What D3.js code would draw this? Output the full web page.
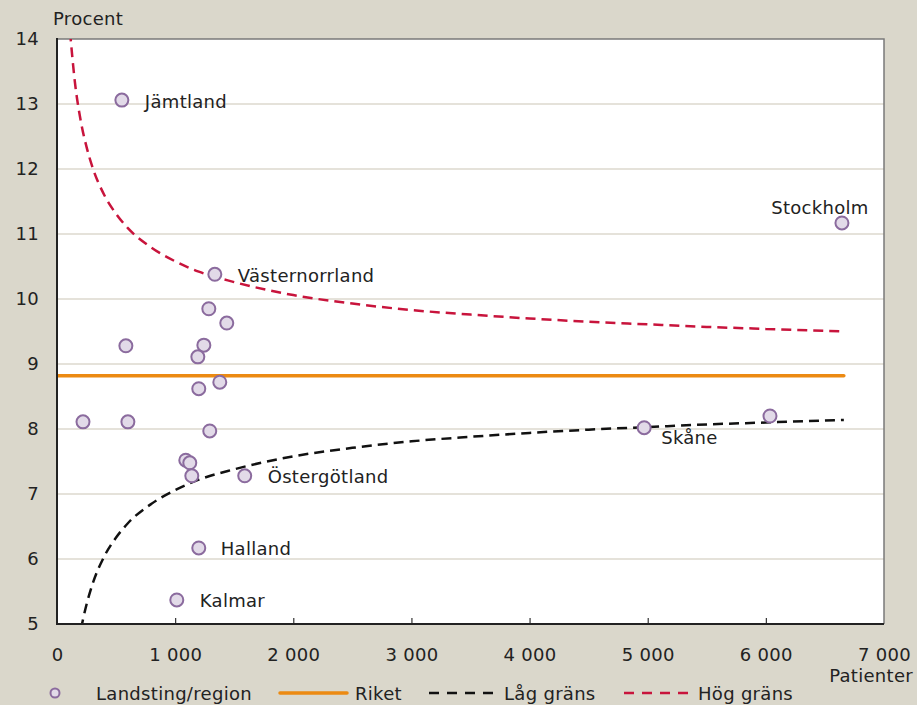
<!DOCTYPE html>
<html><head><meta charset="utf-8">
<script src="https://cdn.jsdelivr.net/npm/d3@7"></script>
<style>
body{margin:0;background:#dad7cb;}
svg{display:block;font-family:"DejaVu Sans",sans-serif;}
text{letter-spacing:0.3px;}
</style></head>
<body>
<svg id="c" width="917" height="705"></svg>
<script>
// Data
const regionNames = ["Jämtland","Stockholm","Västernorrland","","","","","","","","","","","Skåne","","","","","Östergötland","Halland","Kalmar"];
const patients = [549,6644,1336,1285,1437,583,1243,1192,1378,1200,220,600,1293,4970,6035,1090,1124,1141,1589,1200,1014];
const percent  = [13.06,11.17,10.38,9.85,9.63,9.28,9.29,9.11,8.72,8.62,8.11,8.11,7.97,8.02,8.20,7.52,7.48,7.28,7.28,6.17,5.37];
const riketValue = 8.82;
const riketRange = [0,6660];
const limitN     = [110,150,200,250,300,400,500,600,800,1000,1200,1500,2000,2500,3000,3500,4000,4500,5000,5500,6000,6660];
const highLimit  = [14.12,13.36,12.75,12.34,12.03,11.60,11.31,11.09,10.79,10.58,10.42,10.26,10.06,9.93,9.83,9.76,9.70,9.65,9.61,9.57,9.54,9.50];
const lowLimitN  = [203,220,250,300,400,500,600,800,1000,1200,1500,2000,2500,3000,3500,4000,4500,5000,5500,6000,6660];
const lowLimit   = [4.92,5.07,5.30,5.61,6.04,6.33,6.55,6.85,7.06,7.22,7.38,7.58,7.71,7.81,7.88,7.94,7.99,8.03,8.07,8.10,8.14];
const xTicks = [0,1000,2000,3000,4000,5000,6000,7000];
const yTicks = [5,6,7,8,9,10,11,12,13,14];
const legendLabels = ["Landsting/region","Riket","Låg gräns","Hög gräns"];

// label placement (dx, dy, anchor)
const labelPlace = {
  "Jämtland":[23,1,"start"],
  "Stockholm":[-22,-15,"middle"],
  "Västernorrland":[23,1,"start"],
  "Skåne":[17,10,"start"],
  "Östergötland":[23,1,"start"],
  "Halland":[22,1,"start"],
  "Kalmar":[23,1,"start"]
};

const FS = 18;
const svg = d3.select("#c");
const L=57, R=884, T=39, B=624;
const x = d3.scaleLinear().domain([0,7000]).range([L,R]);
const y = d3.scaleLinear().domain([5,14]).range([B,T]);

svg.append("rect").attr("x",L).attr("y",T).attr("width",R-L).attr("height",B-T).attr("fill","#fff");

// grid
svg.append("g").selectAll("line").data(yTicks.filter(d=>d>5&&d<14)).join("line")
  .attr("x1",L).attr("x2",R).attr("y1",d=>y(d)).attr("y2",d=>y(d))
  .attr("stroke","#dcd9ce").attr("stroke-width",1.5);

// top/right border
svg.append("path").attr("d",`M${L},${T}H${R}V${B}`).attr("fill","none").attr("stroke","#7a7a7a").attr("stroke-width",1.5);

svg.append("defs").append("clipPath").attr("id","clip").append("rect")
  .attr("x",L).attr("y",T).attr("width",R-L).attr("height",B-T);

const g = svg.append("g").attr("clip-path","url(#clip)");
const smooth = d3.line().curve(d3.curveMonotoneX);

g.append("path").attr("d",smooth(lowLimitN.map((n,i)=>[x(n),y(lowLimit[i])])))
  .attr("fill","none").attr("stroke","#111").attr("stroke-width",2.5).attr("stroke-dasharray","10,6");
g.append("path").attr("d",smooth(limitN.map((n,i)=>[x(n),y(highLimit[i])])))
  .attr("fill","none").attr("stroke","#c8143c").attr("stroke-width",2.5).attr("stroke-dasharray","10,6");
g.append("line").attr("x1",x(riketRange[0])).attr("x2",x(riketRange[1])).attr("y1",y(riketValue)).attr("y2",y(riketValue))
  .attr("stroke","#ec8a12").attr("stroke-width",3.5).attr("stroke-linecap","round");

// axes
const xAxis = d3.axisBottom(x).tickValues(xTicks).tickSize(0).tickPadding(0)
  .tickFormat(d=>d3.format(",")(d).replace(",", " "));
const xa = svg.append("g").attr("transform",`translate(0,${B})`).call(xAxis);
xa.select(".domain").remove();
xa.selectAll(".tick text").attr("y",24).attr("font-size",FS).attr("fill","#222").attr("font-family","DejaVu Sans, sans-serif").style("white-space","pre");
xa.selectAll(".tick").filter(d=>d>0&&d<7000).append("line").attr("y1",0).attr("y2",-6).attr("stroke","#333").attr("stroke-width",1.2);

const ya = svg.append("g").attr("transform",`translate(${L},0)`).call(d3.axisLeft(y).tickValues(yTicks).tickSize(0).tickPadding(18));
ya.select(".domain").remove();
ya.selectAll(".tick text").attr("font-size",FS).attr("fill","#222").attr("font-family","DejaVu Sans, sans-serif");

svg.append("line").attr("x1",L).attr("x2",L).attr("y1",T-1).attr("y2",B).attr("stroke","#222").attr("stroke-width",2);
svg.append("line").attr("x1",L-1).attr("x2",R).attr("y1",B).attr("y2",B).attr("stroke","#222").attr("stroke-width",2);

// points
const pts = patients.map((p,i)=>({n:p,v:percent[i],name:regionNames[i]}));
svg.append("g").selectAll("circle").data(pts).join("circle")
  .attr("cx",d=>x(d.n)).attr("cy",d=>y(d.v)).attr("r",6.5)
  .attr("fill","#e2dae8").attr("stroke","#8b6b9e").attr("stroke-width",2);

svg.append("g").selectAll("text").data(pts.filter(d=>d.name)).join("text")
  .attr("x",d=>x(d.n)+labelPlace[d.name][0]).attr("y",d=>y(d.v)+labelPlace[d.name][1])
  .attr("text-anchor",d=>labelPlace[d.name][2]).attr("dominant-baseline","central")
  .attr("font-size",FS).attr("fill","#222").text(d=>d.name);

svg.append("text").attr("x",53).attr("y",25).attr("font-size",FS).attr("fill","#222").text("Procent");
svg.append("text").attr("x",913).attr("y",682).attr("text-anchor","end").attr("font-size",FS).attr("fill","#222").text("Patienter");

// legend
const ly = 693;
const lg = svg.append("g");
lg.append("circle").attr("cx",55).attr("cy",ly).attr("r",4.5).attr("fill","#e2dae8").attr("stroke","#8b6b9e").attr("stroke-width",2);
lg.append("line").attr("x1",280).attr("x2",347).attr("y1",ly).attr("y2",ly).attr("stroke","#ec8a12").attr("stroke-width",3.5).attr("stroke-linecap","round");
lg.append("line").attr("x1",429).attr("x2",493).attr("y1",ly).attr("y2",ly).attr("stroke","#111").attr("stroke-width",2.5).attr("stroke-dasharray","10,8");
lg.append("line").attr("x1",624).attr("x2",688).attr("y1",ly).attr("y2",ly).attr("stroke","#c8143c").attr("stroke-width",2.5).attr("stroke-dasharray","10,8");
const lx = [96,355,504,698];
lg.selectAll("text").data(legendLabels).join("text").attr("x",(d,i)=>lx[i]).attr("y",ly).attr("dominant-baseline","central")
  .attr("font-size",FS).attr("fill","#222").text(d=>d);
</script>
</body></html>
